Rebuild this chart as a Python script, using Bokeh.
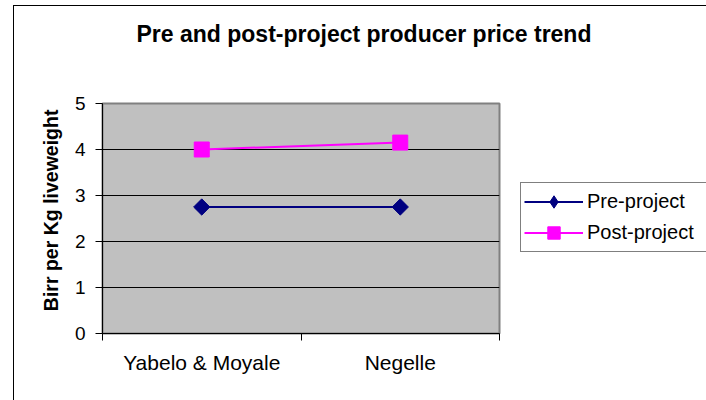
import numpy as np
from bokeh.plotting import figure
from bokeh.models import FixedTicker, Legend, LegendItem, Title, ColumnDataSource, Range1d
from bokeh.embed import file_html
from bokeh.resources import INLINE

categories = ["Yabelo & Moyale", "Negelle"]
pre_project = [2.75, 2.75]
post_project = [4.0, 4.15]
y_ticks = [0, 1, 2, 3, 4, 5]

FONT = "Liberation Sans"
NAVY = "#000080"
MAGENTA = "#FF00FF"
x_pos = [i + 0.5 for i in range(len(categories))]

p = figure(frame_width=397, frame_height=230, output_backend="svg", toolbar_location=None,
           x_range=Range1d(0, len(categories)), y_range=Range1d(0, 5),
           min_border_left=88, min_border_right=207, min_border_top=97, min_border_bottom=67)
p.margin = (5, 0, 0, 13)
p.styles = {"border-left": "1px solid black", "border-top": "1px solid black"}

p.background_fill_color = "#C0C0C0"
p.border_fill_color = "white"
p.outline_line_color = "#808080"
p.outline_line_width = 2

# x axis
p.xaxis.ticker = FixedTicker(ticks=x_pos, minor_ticks=list(range(len(categories) + 1)))
p.xaxis.major_label_overrides = {x: c for x, c in zip(x_pos, categories)}
p.xaxis.major_tick_out = 0
p.xaxis.major_tick_in = 0
p.xaxis.minor_tick_out = 7
p.xaxis.minor_tick_in = 0
p.xaxis.minor_tick_line_color = "black"
p.xaxis.axis_line_color = "black"
p.xaxis.major_label_text_font = FONT
p.xaxis.major_label_text_font_size = "21px"
p.xaxis.major_label_text_color = "black"
p.xaxis.major_label_standoff = 10
p.xgrid.visible = False

# y axis
p.yaxis.ticker = FixedTicker(ticks=y_ticks)
p.yaxis.major_tick_out = 7
p.yaxis.major_tick_in = 0
p.yaxis.minor_tick_line_color = None
p.yaxis.axis_line_color = "black"
p.yaxis.major_tick_line_color = "black"
p.yaxis.major_label_text_font = FONT
p.yaxis.major_label_text_font_size = "19px"
p.yaxis.major_label_text_color = "black"
p.yaxis.major_label_standoff = 10
p.yaxis.axis_label = "\u00a0\u00a0\u00a0Birr per Kg liveweight"
p.yaxis.axis_label_text_font = FONT
p.yaxis.axis_label_text_font_size = "19.5px"
p.yaxis.axis_label_text_font_style = "bold"
p.yaxis.axis_label_text_color = "black"
p.yaxis.axis_label_standoff = 10
p.ygrid.grid_line_color = "black"
p.ygrid.grid_line_width = 1

src = ColumnDataSource(dict(x=x_pos, pre=pre_project, post=post_project))

l1 = p.line("x", "pre", source=src, line_color=NAVY, line_width=2)
# diamond used for the legend key (hidden beneath the rotated square)
d1 = p.scatter("x", "pre", source=src, marker="diamond", size=14,
               fill_color=NAVY, line_color=NAVY)
m1 = p.scatter("x", "pre", source=src, marker="square", angle=np.pi / 4, size=11.5,
               fill_color=NAVY, line_color=NAVY)
l2 = p.line("x", "post", source=src, line_color=MAGENTA, line_width=2)
m2 = p.scatter("x", "post", source=src, marker="square", size=15,
               fill_color=MAGENTA, line_color=MAGENTA)

legend = Legend(items=[LegendItem(label="Pre-project", renderers=[l1, d1]),
                       LegendItem(label="Post-project", renderers=[l2, m2])],
                location=(21, 81), orientation="vertical")
legend.label_text_font = FONT
legend.label_text_font_size = "20px"
legend.label_text_color = "black"
legend.glyph_width = 59
legend.glyph_height = 31
legend.label_height = 31
legend.label_width = 116
legend.label_standoff = 4
legend.spacing = 0
legend.padding = 3
legend.margin = 0
legend.border_line_color = "black"
legend.border_line_width = 1
legend.background_fill_color = "white"
legend.background_fill_alpha = 1
p.add_layout(legend, "right")

spacer_title = Title(text=" ", text_font_size="1px", standoff=54)
p.add_layout(spacer_title, "above")
title = Title(text="Pre and post-project producer price trend", align="left", offset=34,
              text_font=FONT, text_font_size="23px",
              text_font_style="bold", text_color="black", standoff=0)
p.add_layout(title, "above")

open("out.html", "w").write(file_html(p, INLINE))
